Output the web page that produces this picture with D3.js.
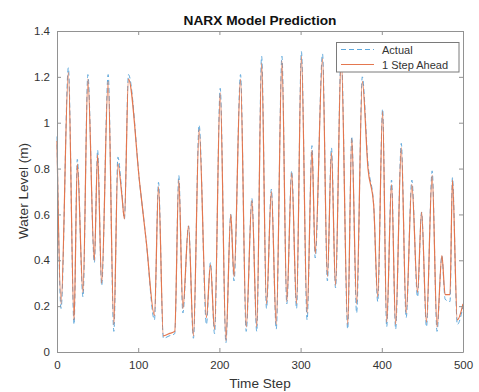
<!DOCTYPE html>
<html>
<head>
<meta charset="utf-8">
<script src="https://cdn.jsdelivr.net/npm/d3@7"></script>
<style>
  html, body { margin: 0; padding: 0; background: #fff; }
  svg { display: block; }
  text { font-family: "Liberation Sans", Arial, Helvetica, sans-serif; }
</style>
</head>
<body>
<svg id="chart" width="479" height="392"></svg>
<script>
// ---- data (turning points of each series) ----
const timeSteps = [0, 5, 14, 21, 25, 32, 38, 46, 50, 55, 63, 70, 75, 80, 83, 88, 102, 110, 120, 125, 131, 138, 145, 150, 155, 162, 168, 175, 184, 189, 194, 201, 208, 214, 218, 226, 233, 240, 246, 252, 258, 264, 270, 277, 283, 289, 295, 301, 308, 314, 318, 327, 333, 338, 343, 350, 358, 363, 369, 376, 383, 390, 395, 401, 406, 412, 417, 424, 430, 437, 444, 449, 455, 462, 468, 474, 478, 484, 487, 493, 500];
const actualValues = [0.94, 0.19, 1.24, 0.12, 0.84, 0.24, 1.21, 0.39, 0.88, 0.29, 1.21, 0.09, 0.85, 0.69, 0.58, 1.21, 0.73, 0.48, 0.14, 0.74, 0.06, 0.07, 0.08, 0.77, 0.17, 0.55, 0.06, 0.99, 0.12, 0.39, 0.08, 1.15, 0.04, 0.60, 0.31, 1.21, 0.09, 0.67, 0.09, 1.29, 0.19, 0.71, 0.10, 1.29, 0.21, 0.79, 0.19, 1.31, 0.14, 0.90, 0.41, 1.30, 0.31, 0.89, 0.28, 1.31, 0.10, 0.94, 0.17, 1.20, 0.82, 0.64, 0.22, 1.06, 0.11, 0.75, 0.10, 0.91, 0.15, 0.75, 0.24, 0.61, 0.11, 0.79, 0.09, 0.42, 0.23, 0.22, 0.76, 0.12, 0.20];
const predictedValues = [0.92, 0.21, 1.22, 0.14, 0.82, 0.26, 1.19, 0.40, 0.86, 0.30, 1.18, 0.12, 0.82, 0.68, 0.58, 1.19, 0.73, 0.48, 0.16, 0.72, 0.07, 0.08, 0.09, 0.75, 0.19, 0.55, 0.07, 0.97, 0.15, 0.38, 0.10, 1.13, 0.05, 0.60, 0.33, 1.19, 0.11, 0.66, 0.11, 1.26, 0.21, 0.70, 0.12, 1.27, 0.22, 0.78, 0.21, 1.29, 0.17, 0.88, 0.43, 1.28, 0.33, 0.87, 0.29, 1.29, 0.12, 0.93, 0.21, 1.18, 0.80, 0.64, 0.24, 1.05, 0.13, 0.73, 0.12, 0.89, 0.17, 0.73, 0.26, 0.61, 0.13, 0.77, 0.11, 0.42, 0.25, 0.25, 0.75, 0.14, 0.21];
const xTicks = [0, 100, 200, 300, 400, 500];
const yTicks = [0, 0.2, 0.4, 0.6, 0.8, 1, 1.2, 1.4];
const seriesNames = ["Actual", "1 Step Ahead"];
const titleText = "NARX Model Prediction";
const xLabel = "Time Step";
const yLabel = "Water Level (m)";

// ---- layout ----
const svg = d3.select("#chart");
const L = 57, R = 463, T = 31, B = 352;
const x = d3.scaleLinear().domain([0, 500]).range([L, R]);
const y = d3.scaleLinear().domain([0, 1.4]).range([B, T]);
const axisColor = "#929292";
const textColor = "#333333";
const blue = "#5ea8dc";
const orange = "#e4774f";

svg.append("rect").attr("width", 479).attr("height", 392).attr("fill", "#fff");

// series
const line = (vals) => d3.line()
  .x((d, i) => x(timeSteps[i]))
  .y(d => y(d))
  .curve(d3.curveMonotoneX)(vals);

svg.append("path").attr("d", line(actualValues))
  .attr("fill", "none").attr("stroke", blue).attr("stroke-width", 1)
  .attr("stroke-dasharray", "5,3");
svg.append("path").attr("d", line(predictedValues))
  .attr("fill", "none").attr("stroke", orange).attr("stroke-width", 1.2);

// axes (box with inward ticks)
const tickLen = 4;
const axB = svg.append("g").attr("transform", `translate(0,${B})`)
  .call(d3.axisBottom(x).tickValues(xTicks).tickSizeInner(-tickLen).tickSizeOuter(0).tickPadding(9).tickFormat(d3.format("d")));
const axT = svg.append("g").attr("transform", `translate(0,${T})`)
  .call(d3.axisTop(x).tickValues(xTicks).tickSizeInner(-tickLen).tickSizeOuter(0).tickFormat(""));
const axL = svg.append("g").attr("transform", `translate(${L},0)`)
  .call(d3.axisLeft(y).tickValues(yTicks).tickSizeInner(-tickLen).tickSizeOuter(0).tickPadding(7).tickFormat(d => d3.format("")(+d.toFixed(1))));
const axR = svg.append("g").attr("transform", `translate(${R},0)`)
  .call(d3.axisRight(y).tickValues(yTicks).tickSizeInner(-tickLen).tickSizeOuter(0).tickFormat(""));

[axB, axT, axL, axR].forEach(g => {
  g.select(".domain").attr("stroke", axisColor);
  g.selectAll(".tick line").attr("stroke", axisColor);
  g.selectAll("text").attr("fill", textColor).attr("font-size", "11.5px")
    .attr("font-family", '"Liberation Sans", Arial, sans-serif');
});

// title & labels
svg.append("text").attr("x", 260).attr("y", 25).attr("text-anchor", "middle")
  .attr("font-size", "13.7px").attr("font-weight", "bold").attr("fill", "#111").text(titleText);
svg.append("text").attr("x", 260).attr("y", 388).attr("text-anchor", "middle")
  .attr("font-size", "13.6px").attr("fill", textColor).text(xLabel);
svg.append("text").attr("transform", "translate(28,191) rotate(-90)").attr("text-anchor", "middle")
  .attr("font-size", "13.6px").attr("fill", textColor).text(yLabel);

// legend
const lg = svg.append("g");
lg.append("rect").attr("x", 336.5).attr("y", 42.5).attr("width", 122.5).attr("height", 29.5)
  .attr("fill", "#fff").attr("stroke", "#7a7a7a").attr("stroke-width", 1);
const legendItems = [
  { name: seriesNames[0], color: blue, dash: "5,3", y: 49.5, w: 1.1 },
  { name: seriesNames[1], color: orange, dash: null, y: 64.5, w: 1.2 }
];
legendItems.forEach(it => {
  lg.append("line").attr("x1", 341).attr("x2", 374).attr("y1", it.y).attr("y2", it.y)
    .attr("stroke", it.color).attr("stroke-width", it.w)
    .attr("stroke-dasharray", it.dash);
  lg.append("text").attr("x", 382).attr("y", it.y + 4).attr("font-size", "11px")
    .attr("fill", textColor).text(it.name);
});
</script>
</body>
</html>
